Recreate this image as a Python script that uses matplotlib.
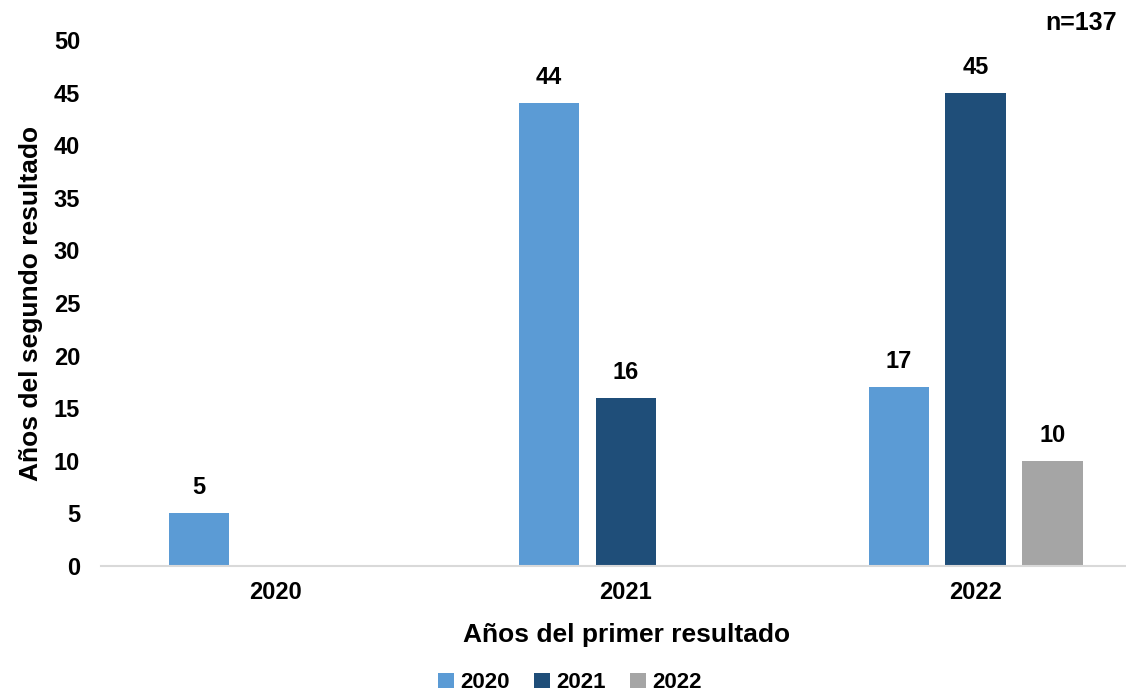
import numpy as np
import matplotlib.pyplot as plt

plt.rcParams['font.family'] = ['Liberation Sans', 'DejaVu Sans']
plt.rcParams['font.weight'] = 'bold'

categories = ['2020', '2021', '2022']
series_names = ['2020', '2021', '2022']
values = {
    '2020': [5, 44, 17],
    '2021': [0, 16, 45],
    '2022': [0, 0, 10],
}
colors = ['#5B9BD5', '#1F4E79', '#A5A5A5']

fig = plt.figure(figsize=(11.26, 6.91), dpi=100)
ax = fig.add_axes([0.0897, 0.181, 0.9103, 0.761])

x = np.arange(len(categories))
step = 0.22
width = 0.172

for i, (name, color) in enumerate(zip(series_names, colors)):
    pos = x + (i - 1) * step
    vals = values[name]
    ax.bar(pos, vals, width=width, color=color, label=name, zorder=2)
    for p, v in zip(pos, vals):
        if v > 0:
            ax.annotate(str(v), (p, v), xytext=(0, 10), textcoords='offset points',
                        ha='center', va='bottom', fontsize=17, fontweight='bold')

ax.set_xlim(-0.5, 2.43)
ax.set_ylim(0, 50)
ax.set_yticks(np.arange(0, 51, 5))
ax.set_xticks(x)
ax.set_xticklabels(categories)
ax.tick_params(axis='both', length=0, labelsize=17)
ax.tick_params(axis='y', pad=15)
ax.tick_params(axis='x', pad=11)
for s in ['top', 'right', 'left']:
    ax.spines[s].set_visible(False)
ax.spines['bottom'].set_color('#D9D9D9')
ax.spines['bottom'].set_linewidth(1.5)

ax.set_xlabel('Años del primer resultado', fontsize=19, fontweight='bold')
ax.xaxis.set_label_coords(0.513, -0.108)
ax.set_ylabel('Años del segundo resultado', fontsize=19, fontweight='bold', labelpad=8)

fig.text(0.992, 0.966, 'n=137', ha='right', va='center', fontsize=18, fontweight='bold')

ax.legend(loc='center', bbox_to_anchor=(0.4576, -0.222), ncol=3, frameon=False,
          fontsize=16, handlelength=0.7, handleheight=0.7, columnspacing=1.1,
          handletextpad=0.3, borderpad=0.1)

fig.savefig('out.png', dpi=100)
